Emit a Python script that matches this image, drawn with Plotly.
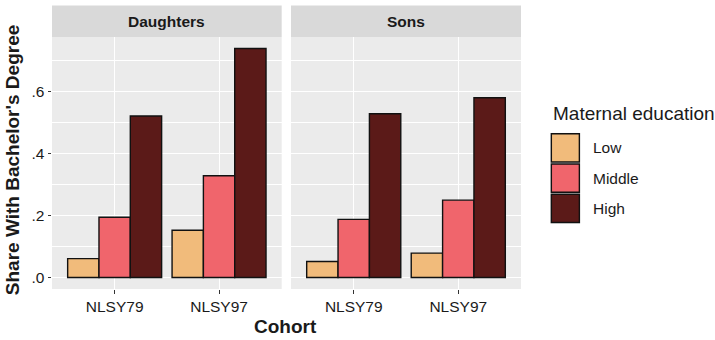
import plotly.graph_objects as go

cohorts = ["NLSY79", "NLSY97"]
groups = ["Low", "Middle", "High"]
colors = ["#F1BB7B", "#F0656C", "#5B1A18"]
daughters = {
    "Low": [0.061, 0.153],
    "Middle": [0.195, 0.329],
    "High": [0.522, 0.740],
}
sons = {
    "Low": [0.052, 0.079],
    "Middle": [0.188, 0.250],
    "High": [0.529, 0.581],
}
facets = ["Daughters", "Sons"]
ytickvals = [0.0, 0.2, 0.4, 0.6]
yticktext = [".0", ".2", ".4", ".6"]

FONT = "Liberation Sans, Arial, Helvetica, sans-serif"
TXT = "#1a1a1a"
fig = go.Figure()
for data, xa, ya in [(daughters, "x", "y"), (sons, "x2", "y2")]:
    for g, c in zip(groups, colors):
        fig.add_trace(go.Bar(
            x=cohorts, y=data[g], name=g, xaxis=xa, yaxis=ya,
            marker=dict(color=c, line=dict(color="#111111", width=1.4)),
            showlegend=False, offsetgroup=g,
        ))

W, H = 715, 340
ml, mr, mt, mb = 52.3, 194.3, 36.7, 50.7
pw = W - ml - mr
ph = H - mt - mb
d1 = [0, 229.4 / pw]
d2 = [(291 - ml) / pw, 1]

axx = dict(type="category", range=[-0.6, 1.6], showgrid=True, gridcolor="white",
           gridwidth=1.2, ticks="outside", ticklen=3.5, tickcolor="#333333",
           tickfont=dict(size=15.5, color=TXT, family=FONT), zeroline=False,
           showline=False)
axy = dict(range=[-0.037, 0.777], tickvals=ytickvals, ticktext=yticktext,
           showgrid=True, gridcolor="white", gridwidth=1.2, ticks="outside",
           ticklen=3.5, tickcolor="#333333", zeroline=False, showline=False,
           tickfont=dict(size=15.5, color=TXT, family=FONT),
           minor=dict(tickvals=[0.1, 0.3, 0.5, 0.7], showgrid=True,
                      gridcolor="white", gridwidth=0.6, ticks=""))

fig.update_layout(
    width=W, height=H,
    margin=dict(l=ml, r=mr, t=mt, b=mb),
    paper_bgcolor="white", plot_bgcolor="#EBEBEB",
    barmode="group", bargap=0.1, bargroupgap=0,
    showlegend=False,
    font=dict(family=FONT, color=TXT),
    xaxis=dict(axx, domain=d1, anchor="y"),
    xaxis2=dict(axx, domain=d2, anchor="y2"),
    yaxis=dict(axy, domain=[0, 1], anchor="x"),
    yaxis2=dict(axy, domain=[0, 1], anchor="x2", showticklabels=False, ticks=""),
)


def px_x(x):
    return (x - ml) / pw


def px_y(y):
    return (H - mb - y) / ph


# facet strips
for dom, lab in zip([d1, d2], facets):
    fig.add_shape(type="rect", xref="paper", yref="paper",
                  x0=dom[0], x1=dom[1], y0=1, y1=px_y(5),
                  fillcolor="#D9D9D9", line=dict(width=0), layer="below")
    fig.add_annotation(xref="paper", yref="paper", x=(dom[0] + dom[1]) / 2,
                       y=px_y(21), text="<b>" + lab + "</b>", showarrow=False,
                       font=dict(size=15.5, color=TXT, family=FONT),
                       xanchor="center", yanchor="middle")

# axis titles
fig.add_annotation(xref="paper", yref="paper", x=px_x(286), y=px_y(327),
                   text="<b>Cohort</b>", showarrow=False,
                   font=dict(size=19, color=TXT, family=FONT),
                   xanchor="center", yanchor="middle")
fig.add_annotation(xref="paper", yref="paper", x=px_x(12.5), y=px_y(160),
                   text="<b>Share With Bachelor's Degree</b>", showarrow=False,
                   textangle=-90,
                   font=dict(size=19, color=TXT, family=FONT),
                   xanchor="center", yanchor="middle")

# custom legend (ggplot-style keys)
fig.add_annotation(xref="paper", yref="paper", x=px_x(551), y=px_y(113),
                   text="Maternal education", showarrow=False,
                   font=dict(size=19, color=TXT, family=FONT),
                   xanchor="left", yanchor="middle")
key_top = 132.7
key_h = 30.3
for i, (g, c) in enumerate(zip(groups, colors)):
    y0 = key_top + i * key_h
    fig.add_shape(type="rect", xref="paper", yref="paper",
                  x0=px_x(550), x1=px_x(580), y0=px_y(y0), y1=px_y(y0 + key_h),
                  fillcolor="#F2F2F2", line=dict(width=0))
    fig.add_shape(type="rect", xref="paper", yref="paper",
                  x0=px_x(551), x1=px_x(579), y0=px_y(y0 + 1), y1=px_y(y0 + key_h - 1),
                  fillcolor=c, line=dict(color="#111111", width=1.4))
    fig.add_annotation(xref="paper", yref="paper", x=px_x(590.5), y=px_y(y0 + key_h / 2),
                       text=g, showarrow=False,
                       font=dict(size=15.5, color=TXT, family=FONT),
                       xanchor="left", yanchor="middle")

fig.write_html("out.html", config={"displayModeBar": False},
               post_script="document.body.style.margin='0';document.body.style.overflow='hidden';")
